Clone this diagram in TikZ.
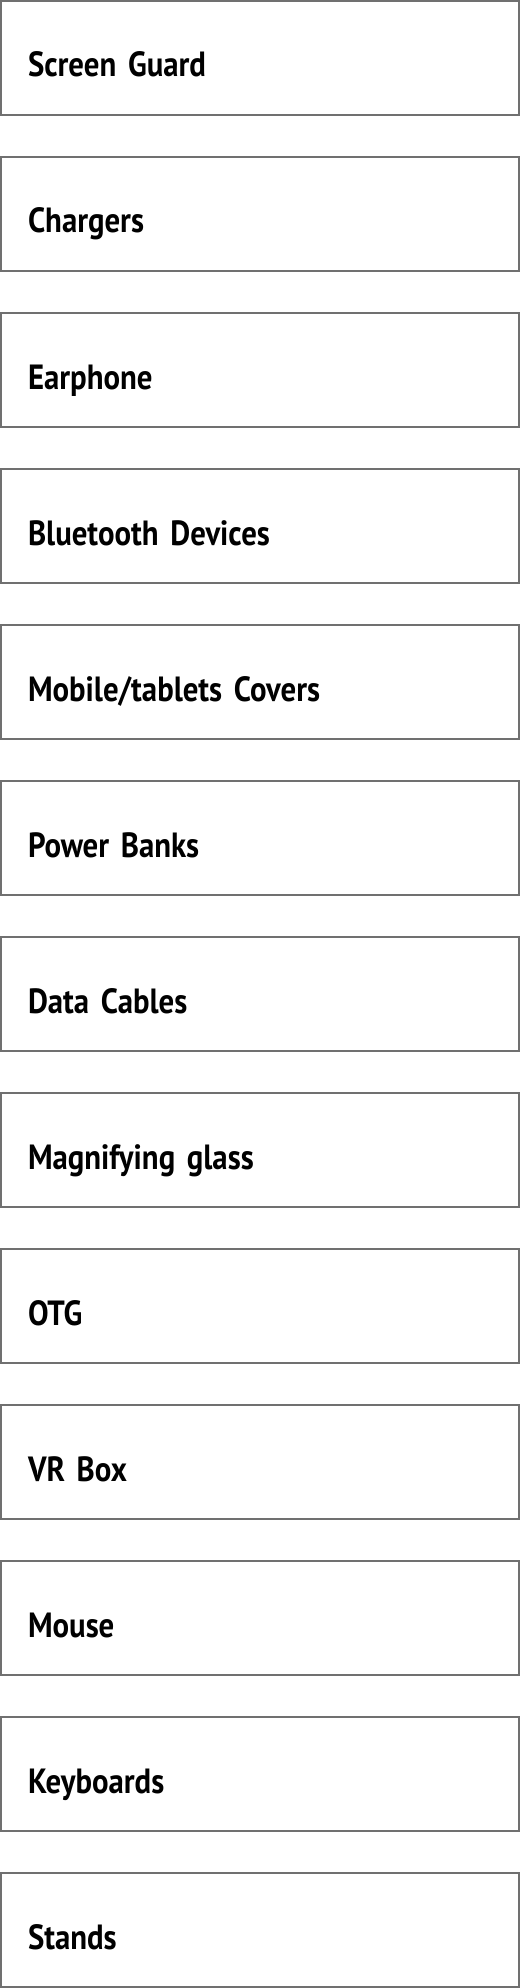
\documentclass[tikz,border=0pt]{standalone}
\usepackage{fontspec}
\setmainfont{PT Sans}[FakeStretch=0.88]
\usetikzlibrary{positioning}

\begin{document}
\begin{tikzpicture}[x=1pt, y=1pt,
    item/.style={draw=boxgray, line width=2pt, rectangle,
      minimum width=518pt, minimum height=114pt,
      text width=464pt, align=left, inner xsep=27pt,
      text height=40pt, text depth=2pt,
      font=\fontsize{35}{40}\selectfont\bfseries},
    node distance=40pt]

      \definecolor{boxgray}{HTML}{707070}

      % page frame
      \useasboundingbox (0, 0) rectangle (520, -1988);

      % accessory boxes
      \node [item, name=guard] at (260, -58) {Screen Guard};
      \node [item, name=chargers, below=of guard] {Chargers};
      \node [item, name=earphone, below=of chargers] {Earphone};
      \node [item, name=bluetooth, below=of earphone] {Bluetooth Devices};
      \node [item, name=covers, below=of bluetooth] {Mobile/tablets Covers};
      \node [item, name=powerbanks, below=of covers] {Power Banks};
      \node [item, name=cables, below=of powerbanks] {Data Cables};
      \node [item, name=glass, below=of cables] {Magnifying glass};
      \node [item, name=otg, below=of glass] {OTG};
      \node [item, name=vrbox, below=of otg] {VR Box};
      \node [item, name=mouse, below=of vrbox] {Mouse};
      \node [item, name=keyboards, below=of mouse] {Keyboards};
      \node [item, name=stands, below=of keyboards] {Stands};

\end{tikzpicture}
\end{document}
